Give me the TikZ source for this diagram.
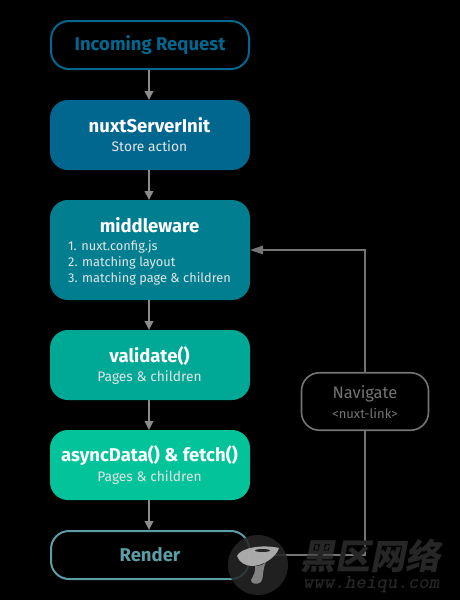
\documentclass[tikz,border=0pt]{standalone}
\usepackage{fontspec}
\setmainfont{Fira Sans}
\newfontfamily\cjkfont{Noto Sans CJK SC}
\usepackage{xcolor}
\definecolor{nuxtBlue}{RGB}{1,103,143}
\definecolor{nuxtTeal}{RGB}{1,127,144}
\definecolor{nuxtSea}{RGB}{0,168,150}
\definecolor{nuxtMint}{RGB}{2,195,154}
\definecolor{renderEdge}{RGB}{92,158,166}
\definecolor{navGray}{RGB}{116,116,116}
\definecolor{arrowGray}{RGB}{140,140,140}
\definecolor{markGray}{RGB}{38,38,38}
\usetikzlibrary{arrows.meta}
\tikzstyle{stepfill}=[minimum width=200pt, rounded corners=18pt, inner sep=0pt, outer sep=0pt, draw=none, text=white]
\tikzstyle{stepline}=[minimum width=198pt, minimum height=48pt, rounded corners=18pt, inner sep=0pt, line width=2pt, fill=black, font=\fontsize{18.5}{22}\selectfont\bfseries]
\tikzstyle{titletxt}=[font=\fontsize{18.5}{22}\selectfont\bfseries, text=white, inner sep=0pt]
\tikzstyle{subtxt}=[font=\fontsize{13.8}{16}\selectfont, text=white!90!black, inner sep=0pt]
\tikzstyle{flowarrow}=[-{Triangle[length=9pt,width=8.5pt]}, line width=2pt, color=arrowGray]
\tikzstyle{navline}=[line width=1.6pt, color=navGray]

\begin{document}
\begin{tikzpicture}[x=1pt, y=-1pt]
    \useasboundingbox (0,0) rectangle (460,600);
    \fill[black] (0,0) rectangle (460,600);

    % Colonne principale
    \node[stepline, draw=nuxtBlue, text=nuxtBlue] (request) at (150,45) {Incoming Request};
    \node[stepfill, fill=nuxtBlue, minimum height=70pt] (init) at (150,135) {};
    \node[stepfill, fill=nuxtTeal, minimum height=100pt] (middleware) at (150,250) {};
    \node[stepfill, fill=nuxtSea, minimum height=70pt] (validate) at (150,365) {};
    \node[stepfill, fill=nuxtMint, minimum height=70pt] (asyncdata) at (150,465) {};
    \node[stepline, draw=renderEdge, text=renderEdge] (render) at (150,555) {Render};

    % Textes des boites
    \node[titletxt] (initTitle) at (149.5,125) {nuxtServerInit};
    \node[subtxt] (initSub) at (149.5,146.5) {Store action};
    \node[titletxt] (middlewareTitle) at (149.5,225) {middleware};
    \node[subtxt, anchor=west, align=left, font=\fontsize{12.8}{16}\selectfont] (middlewareList) at (68,263) {1. nuxt.config.js\\2. matching layout\\3. matching page \& children};
    \node[titletxt] (validateTitle) at (149.5,356) {validate()};
    \node[subtxt] (validateSub) at (149.5,377.5) {Pages \& children};
    \node[titletxt] (asyncTitle) at (149.5,456) {asyncData() \& fetch()};
    \node[subtxt] (asyncSub) at (149.5,477.5) {Pages \& children};

    % Fleches verticales
    \foreach \from/\to in {request/init,init/middleware,middleware/validate,validate/asyncdata,asyncdata/render} {
      \draw[flowarrow] ([xshift=-1pt]\from.south) -- ([xshift=-1pt]\to.north);
    }

    % Retour par Navigate
    \node[draw=navGray, line width=1.6pt, fill=black, rounded corners=18pt, minimum width=127pt, minimum height=57.5pt, inner sep=0pt] (navigate) at (365,401.5) {};
    \node[font=\fontsize{16.5}{19}\selectfont, text=navGray, inner sep=0pt] (navTitle) at (365,394) {Navigate};
    \node[font=\fontsize{13}{15}\selectfont, text=navGray, inner sep=0pt] (navSub) at (365,413.5) {<nuxt-link>};
    \draw[navline] (render.east) -| (navigate.south);
    \draw[navline, -{Triangle[length=13pt,width=8.5pt]}] (navigate.north) |- (middleware.east);

    % Filigrane
    \node[circle, fill=markGray, fill opacity=0.85, minimum size=60pt, inner sep=0pt] (markDisc) at (258,565) {};
    \fill[white!72!black, fill opacity=0.9] (237,556) .. controls (240,548) and (262,544) .. (279,548) .. controls (276,558) and (262,566) .. (252,566) .. controls (245,566) and (239,562) .. (237,556) -- cycle;
    \fill[white!55!black, fill opacity=0.9] (255,566) .. controls (260,566) and (263,565) .. (266,562) .. controls (262,570) and (264,578) .. (261,582) .. controls (257,585) and (251,584) .. (251,580) .. controls (254,575) and (256,570) .. (255,566) -- cycle;
    \fill[markGray] (262.5,550.5) ellipse (7.5pt and 1.5pt);
    \node[font=\fontsize{35}{38}\cjkfont\bfseries, text=markGray, inner sep=0pt, xslant=0.2] (markCn) at (373,556) {黑区网络};
    \node[font=\fontsize{20}{22}\ttfamily\bfseries, text=markGray, inner sep=0pt, xslant=0.2] (markUrl) at (372,585) {www.heiqu.com};
\end{tikzpicture}
\end{document}
